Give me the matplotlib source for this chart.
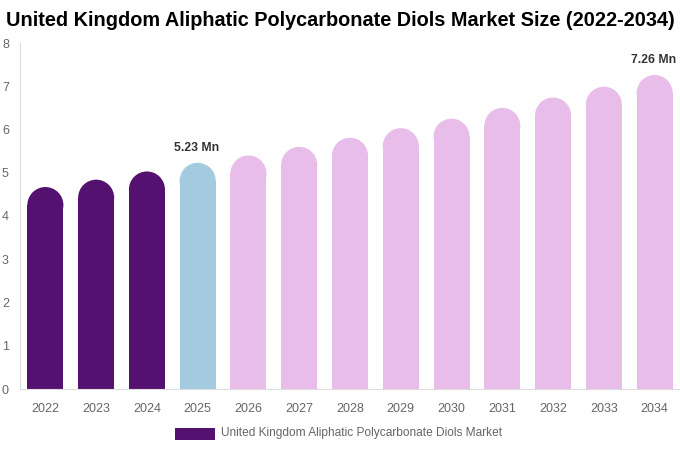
import matplotlib
matplotlib.use("Agg")
import matplotlib.pyplot as plt
from matplotlib.patches import Rectangle, Ellipse

years = ["2022", "2023", "2024", "2025", "2026", "2027", "2028", "2029", "2030", "2031", "2032", "2033", "2034"]
values = [4.67, 4.84, 5.03, 5.23, 5.40, 5.60, 5.81, 6.03, 6.25, 6.50, 6.74, 6.99, 7.26]
labels = {3: "5.23 Mn", 12: "7.26 Mn"}
series_name = "United Kingdom Aliphatic Polycarbonate Diols Market"

c_hist = "#541170"
c_cur = "#a4cadf"
c_fore = "#e8bde9"
colors = [c_hist] * 3 + [c_cur] + [c_fore] * 9

plt.rcParams['font.family'] = ['Liberation Sans', 'DejaVu Sans']
W, H = 680, 450
fig = plt.figure(figsize=(W / 100, H / 100), dpi=100)
ax = fig.add_axes([20 / W, 1 - 389 / H, 660 / W, 346 / H])
n = len(years)
ax.set_xlim(-0.5, n - 0.5)
ax.set_ylim(0, 8)

bw = 0.71
px_per_x = 660 / n
px_per_y = 346 / 8
r_px = bw * px_per_x / 2
ry = r_px / px_per_y
for i, v in enumerate(values):
    ax.add_patch(Rectangle((i - bw / 2, 0), bw, v - ry, facecolor=colors[i], edgecolor='none'))
    ax.add_patch(Ellipse((i, v - ry), bw, 2 * ry, facecolor=colors[i], edgecolor='none'))
    if i in labels:
        ax.text(i - 0.03, v + 0.2, labels[i], ha='center', va='bottom', fontsize=8.8,
                fontweight='bold', color='#333333')

ax.set_xticks(range(n))
ax.set_xticklabels(years)
ax.set_yticks(range(0, 9))
for s in ['top', 'right']:
    ax.spines[s].set_visible(False)
for s in ['left', 'bottom']:
    ax.spines[s].set_color('#dddddd')
    ax.spines[s].set_linewidth(0.8)
ax.tick_params(axis='both', length=0, labelsize=9, colors='#666666')
ax.tick_params(axis='x', pad=10)
ax.tick_params(axis='y', pad=8)

fig.text(340 / W, 1 - 21 / H, "United Kingdom Aliphatic Polycarbonate Diols Market Size (2022-2034)",
         ha='center', va='center', fontsize=14.3, fontweight='bold', color='#000000')

fig.patches.append(Rectangle((175 / W, 1 - 440 / H), 40 / W, 12 / H, transform=fig.transFigure,
                             facecolor=c_hist, edgecolor='none'))
fig.text(221 / W, 1 - 433 / H, series_name, ha='left', va='center', fontsize=8.6, color='#666666')

fig.savefig("out.png", dpi=100)
